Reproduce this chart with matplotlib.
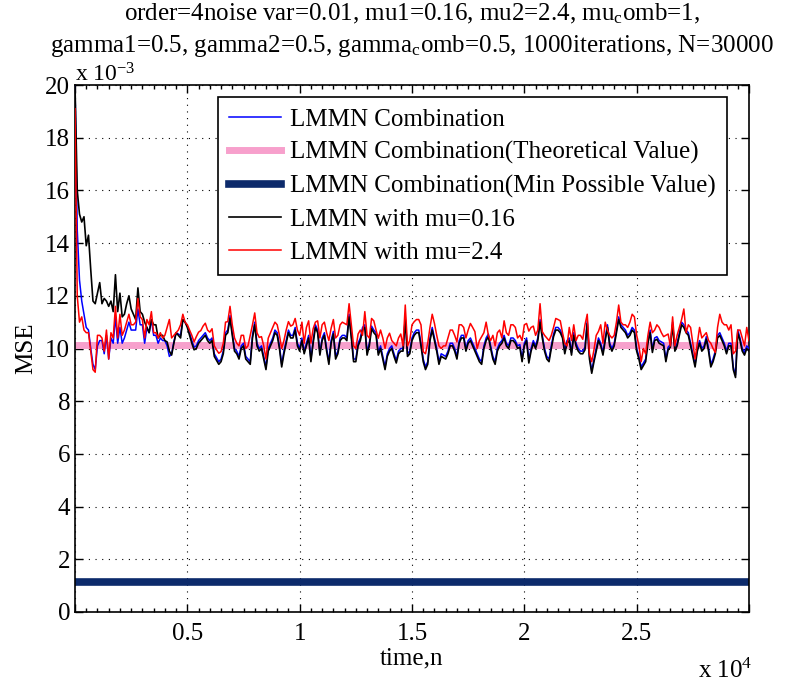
import numpy as np
import matplotlib
matplotlib.use("Agg")
import matplotlib.pyplot as plt
from matplotlib.ticker import MultipleLocator, FuncFormatter

plt.rcParams['font.family'] = ['Liberation Serif', 'DejaVu Serif']
plt.rcParams['mathtext.fontset'] = 'custom'
plt.rcParams['mathtext.rm'] = 'Liberation Serif'
plt.rcParams['mathtext.it'] = 'Liberation Serif:italic'

# sample index step between plotted points
step = 100

# MSE values in units of 1e-3
lmmn_comb = [20.0, 14.5, 12.6, 11.8, 11.3, 10.8, 10.7, 10.0, 9.4, 9.2,
             10.1, 10.3, 10.3, 9.8, 10.5, 9.6, 10.4, 10.2, 11.2, 10.2,
             10.8, 10.2, 10.4, 10.7, 11.0, 10.7, 10.7, 10.7, 11.5, 10.9,
             10.9, 10.2, 10.8, 10.6, 11.1, 10.5, 10.5, 10.2, 10.4, 10.3,
             10.3, 10.1, 9.7, 9.8, 10.25, 10.6, 10.55, 10.5, 11.1, 11.0,
             10.85, 10.6, 10.3, 10.05, 10.1, 10.3, 10.4, 10.5, 10.6, 10.4,
             10.3, 10.4, 9.8, 9.65, 9.5, 9.6, 9.9, 10.6, 10.7, 11.25,
             10.6, 10.0, 9.9, 9.7, 10.1, 10.2, 9.7, 9.6, 9.5, 10.5,
             11.0, 10.2, 10.0, 10.1, 9.7, 9.3, 10.0, 10.2, 10.4, 10.7,
             10.6, 10.1, 9.4, 9.9, 10.3, 10.7, 10.5, 10.5, 10.8, 10.2,
             10.0, 10.4, 9.9, 10.2, 10.5, 9.6, 10.3, 10.9, 10.7, 9.85,
             10.4, 10.6, 10.0, 9.5, 10.3, 10.65, 9.7, 9.9, 10.4, 10.5,
             10.5, 10.4, 11.3, 10.5, 9.6, 9.6, 10.2, 10.4, 10.8, 10.9,
             9.85, 10.2, 10.85, 10.7, 10.6, 9.85, 10.1, 9.7, 9.3, 9.8,
             10.0, 10.1, 9.8, 9.55, 9.9, 10.0, 10.0, 11.2, 9.8, 9.9,
             10.4, 10.6, 10.7, 10.7, 10.2, 9.6, 9.3, 9.5, 10.4, 10.8,
             10.4, 10.0, 9.5, 9.8, 9.75, 9.7, 9.9, 10.2, 10.2, 10.0,
             9.7, 10.3, 10.5, 10.5, 10.0, 10.3, 10.4, 10.2, 10.0, 9.8,
             9.6, 9.5, 10.1, 10.4, 10.55, 10.1, 9.7, 9.5, 10.0, 10.2,
             10.3, 10.5, 10.2, 10.1, 10.4, 10.4, 10.3, 10.1, 10.15, 9.6,
             10.2, 10.4, 9.55, 10.0, 10.3, 10.1, 10.4, 11.1, 10.5, 10.0,
             9.7, 9.6, 10.1, 10.55, 10.8, 10.8, 10.7, 10.5, 9.9, 10.3,
             10.4, 9.85, 10.6, 10.2, 10.0, 9.9, 9.9, 10.05, 11.05, 9.7,
             9.15, 9.6, 10.0, 10.4, 10.2, 9.85, 10.4, 10.9, 10.2, 10.0,
             10.2, 10.7, 11.2, 10.9, 10.8, 10.7, 10.5, 10.6, 10.8, 10.7,
             10.0, 9.7, 9.3, 9.45, 9.6, 10.3, 10.7, 9.95, 10.4, 10.45,
             10.3, 10.25, 10.2, 9.6, 10.05, 10.15, 11.0, 10.0, 10.2, 10.6,
             11.0, 10.9, 10.7, 10.6, 10.2, 9.8, 9.4, 10.0, 10.3, 10.0,
             10.1, 10.45, 10.0, 9.4, 9.6, 9.9, 10.5, 10.6, 10.4, 10.2,
             9.9, 10.2, 10.2, 9.3, 9.0, 10.7, 10.4, 10.0, 9.85, 10.1,
             10.0]

lmmn_mu1 = [20.0, 16.0, 15.1, 14.8, 15.0, 13.9, 14.3, 13.0, 11.8, 11.7,
            12.1, 12.5, 11.7, 11.9, 11.8, 11.6, 11.8, 11.4, 12.8, 11.4,
            12.1, 11.2, 11.3, 11.7, 12.0, 11.5, 11.3, 11.1, 12.3, 11.4,
            11.3, 11.0, 10.8, 10.6, 11.1, 10.9, 10.9, 10.4, 10.5, 10.5,
            10.3, 10.25, 9.9, 9.75, 10.2, 10.6, 10.5, 10.4, 11.1, 11.0,
            10.8, 10.5, 10.2, 9.95, 10.0, 10.2, 10.3, 10.4, 10.5, 10.3,
            10.2, 10.3, 9.7, 9.55, 9.4, 9.5, 9.8, 10.5, 10.6, 11.15,
            10.5, 9.9, 9.8, 9.6, 10.0, 10.1, 9.6, 9.5, 9.4, 10.4,
            10.9, 10.1, 9.9, 10.0, 9.6, 9.2, 9.9, 10.1, 10.3, 10.6,
            10.5, 10.0, 9.3, 9.8, 10.2, 10.6, 10.4, 10.4, 10.7, 10.1,
            9.9, 10.3, 9.8, 10.1, 10.4, 9.5, 10.2, 10.8, 10.6, 9.75,
            10.3, 10.5, 9.9, 9.4, 10.2, 10.55, 9.6, 9.8, 10.3, 10.4,
            10.4, 10.3, 11.2, 10.4, 9.5, 9.5, 10.1, 10.3, 10.7, 10.8,
            9.75, 10.1, 10.75, 10.6, 10.5, 9.75, 10.0, 9.6, 9.2, 9.7,
            9.9, 10.0, 9.7, 9.45, 9.8, 9.9, 9.9, 11.1, 9.7, 9.8,
            10.3, 10.5, 10.6, 10.6, 10.1, 9.5, 9.2, 9.4, 10.3, 10.7,
            10.3, 9.9, 9.4, 9.7, 9.65, 9.6, 9.8, 10.1, 10.1, 9.9,
            9.6, 10.2, 10.4, 10.4, 9.9, 10.2, 10.3, 10.1, 9.9, 9.7,
            9.5, 9.4, 10.0, 10.3, 10.45, 10.0, 9.6, 9.4, 9.9, 10.1,
            10.2, 10.4, 10.1, 10.0, 10.3, 10.3, 10.2, 10.0, 10.05, 9.5,
            10.1, 10.3, 9.45, 9.9, 10.2, 10.0, 10.3, 11.0, 10.4, 9.9,
            9.6, 9.5, 10.0, 10.45, 10.7, 10.7, 10.6, 10.4, 9.8, 10.2,
            10.3, 9.75, 10.5, 10.1, 9.9, 9.8, 9.8, 9.95, 10.95, 9.6,
            9.06, 9.5, 9.9, 10.3, 10.1, 9.75, 10.3, 10.8, 10.1, 9.9,
            10.1, 10.6, 11.1, 10.8, 10.7, 10.6, 10.4, 10.5, 10.7, 10.6,
            9.9, 9.6, 9.2, 9.35, 9.5, 10.2, 10.6, 9.85, 10.3, 10.35,
            10.2, 10.15, 10.1, 9.5, 9.95, 10.05, 10.9, 9.9, 10.1, 10.5,
            10.9, 10.8, 10.6, 10.5, 10.1, 9.7, 9.3, 9.9, 10.2, 9.9,
            10.0, 10.35, 9.9, 9.3, 9.5, 9.8, 10.4, 10.5, 10.3, 10.1,
            9.8, 10.1, 10.1, 9.2, 8.9, 10.6, 10.3, 9.9, 9.75, 10.0,
            9.9]

lmmn_mu2 = [19.1, 12.0, 11.0, 11.2, 10.7, 10.6, 10.6, 9.9, 9.2, 9.1,
            10.5, 10.5, 10.4, 9.9, 10.7, 9.6, 10.6, 10.4, 11.6, 10.4,
            11.3, 10.5, 10.7, 11.0, 11.3, 10.9, 10.9, 11.0, 11.9, 11.2,
            11.1, 10.4, 11.1, 10.9, 11.4, 10.6, 10.6, 10.4, 10.6, 10.4,
            10.5, 10.8, 11.1, 10.4, 10.5, 10.6, 10.7, 10.9, 11.3, 11.0,
            10.9, 10.7, 10.5, 10.25, 10.45, 10.62, 10.68, 10.85, 10.96, 10.7,
            10.62, 10.75, 10.1, 9.95, 9.82, 9.88, 10.2, 11.0, 11.02, 11.6,
            10.9, 10.4, 10.2, 10.1, 10.5, 10.5, 10.0, 10.1, 10.5, 10.9,
            11.35, 10.6, 10.42, 10.45, 10.1, 9.6, 10.39, 10.6, 10.8, 11.0,
            10.9, 10.5, 10.0, 10.3, 10.7, 11.02, 10.85, 10.9, 11.14, 10.7,
            10.5, 11.0, 10.2, 10.8, 11.05, 10.2, 10.75, 11.0, 11.05, 10.4,
            10.9, 11.0, 10.6, 10.3, 10.77, 11.1, 10.4, 10.5, 10.9, 11.0,
            10.95, 10.9, 11.7, 10.9, 10.1, 10.0, 10.55, 10.7, 10.5, 11.4,
            10.5, 10.4, 11.14, 11.05, 10.7, 10.39, 10.7, 10.4, 10.0, 10.4,
            10.58, 10.3, 10.2, 10.1, 10.4, 10.55, 10.1, 11.65, 10.1, 10.3,
            10.9, 11.02, 11.1, 11.1, 10.9, 9.88, 9.8, 10.2, 10.8, 11.3,
            10.95, 10.5, 10.1, 10.0, 10.1, 10.1, 10.4, 10.7, 10.7, 10.5,
            10.25, 10.9, 10.9, 10.8, 10.4, 10.7, 10.95, 10.8, 10.64, 10.0,
            10.3, 10.45, 10.6, 11.0, 10.5, 10.3, 10.5, 10.1, 10.6, 10.7,
            10.4, 11.05, 10.6, 10.5, 10.9, 10.9, 10.8, 10.4, 10.5, 10.3,
            10.9, 10.95, 10.66, 10.8, 10.85, 10.5, 10.7, 11.7, 10.64, 10.5,
            10.4, 10.3, 10.5, 10.8, 11.14, 11.1, 11.05, 10.6, 10.2, 10.1,
            10.8, 10.3, 10.9, 10.3, 10.5, 10.5, 10.35, 10.9, 11.3, 9.8,
            9.5, 9.95, 10.5, 10.65, 10.9, 10.2, 11.0, 10.7, 10.5, 10.4,
            10.5, 11.0, 11.65, 11.0, 10.9, 10.9, 10.8, 11.0, 11.3, 11.2,
            10.5, 10.1, 9.5, 10.0, 9.8, 10.5, 11.0, 10.6, 10.7, 10.9,
            10.8, 10.6, 10.45, 10.5, 10.55, 10.1, 11.2, 10.1, 10.5, 10.8,
            11.1, 11.5, 10.6, 10.9, 10.8, 10.2, 9.6, 10.2, 10.8, 10.4,
            10.5, 10.6, 10.3, 10.2, 10.0, 9.85, 10.8, 11.3, 11.0, 10.9,
            10.9, 10.7, 10.9, 9.8, 9.9, 10.7, 10.7, 10.4, 10.1, 10.8,
            10.3]

theoretical = 10.15
min_possible = 1.15

labels = ['LMMN Combination', 'LMMN Combination(Theoretical Value)',
          'LMMN Combination(Min Possible Value)', 'LMMN with mu=0.16', 'LMMN with mu=2.4']

W, H = 785, 686
fig = plt.figure(figsize=(W / 100, H / 100), dpi=100)
ax = fig.add_axes([75 / W, 1 - 612 / H, (749 - 75) / W, (612 - 85) / H])

ax.plot(np.arange(len(lmmn_comb)) * step, lmmn_comb, color='#0000ff', lw=1.1, label=labels[0], zorder=3)
ax.plot([0, 30000], [theoretical, theoretical], color='#f7a0cc', lw=5, label=labels[1], zorder=2)
ax.plot([0, 30000], [min_possible, min_possible], color='#0c2a6b', lw=5.5, label=labels[2], zorder=2)
ax.plot(np.arange(len(lmmn_mu1)) * step, lmmn_mu1, color='black', lw=1.2, label=labels[3], zorder=4)
ax.plot(np.arange(len(lmmn_mu2)) * step, lmmn_mu2, color='#ff0000', lw=1.1, label=labels[4], zorder=5)

ax.set_xlim(0, 30000)
ax.set_ylim(0, 20)
ax.xaxis.set_major_locator(MultipleLocator(5000))
ax.yaxis.set_major_locator(MultipleLocator(2))
ax.xaxis.set_minor_locator(MultipleLocator(500))
ax.xaxis.set_major_formatter(FuncFormatter(lambda v, p: '' if v <= 0 or v >= 30000 else ('%g' % (v / 1e4))))
ax.yaxis.set_major_formatter(FuncFormatter(lambda v, p: '%d' % v))
ax.tick_params(which='both', direction='in', top=True, right=True, labelsize=18, width=1)
ax.tick_params(axis='x', which='major', pad=8)
ax.tick_params(which='major', length=6)
ax.tick_params(which='minor', length=3)
ax.grid(True, which='major', linestyle=(0, (1, 5)), color='black', lw=0.8)
for s in ax.spines.values():
    s.set_linewidth(1.2)

ax.set_xlabel('time,n', fontsize=18, labelpad=2)
ax.set_ylabel('MSE', fontsize=18, labelpad=6)
fig.text(698 / W, 1 - 678 / H, r'x 10$^{4}$', fontsize=18, ha='left', va='baseline')
fig.text(75 / W, 1 - 82 / H, r'x 10$^{-3}$', fontsize=17, ha='left', va='baseline')

ax.set_title('order=4noise var=0.01, mu1=0.16, mu2=2.4, mu$_{\\rm c}$omb=1,\n'
             'gamma1=0.5, gamma2=0.5, gamma$_{\\rm c}$omb=0.5, 1000iterations, N=30000',
             fontsize=18, pad=24, linespacing=1.35)

leg = ax.legend(loc='upper right', bbox_to_anchor=(727 / W, 1 - 97 / H), bbox_transform=fig.transFigure,
                fontsize=18, fancybox=False, framealpha=1, edgecolor='black', borderpad=0.45,
                handlelength=2.1, handletextpad=0.35, labelspacing=0.42, borderaxespad=0)
leg.get_frame().set_linewidth(1.2)

fig.savefig('out.png', dpi=100)
